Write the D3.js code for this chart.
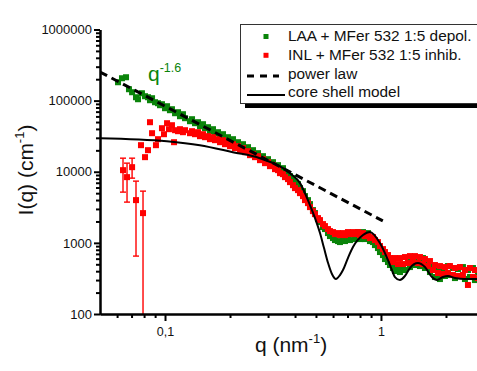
<!DOCTYPE html>
<html>
<head>
<meta charset="utf-8">
<script src="https://cdn.jsdelivr.net/npm/d3@7"></script>
<style>
  body { margin: 0; background: #fff; }
  svg { display: block; font-family: "Liberation Sans", Arial, sans-serif; }
</style>
</head>
<body>
<svg id="chart" width="477" height="371"></svg>
<script>
// LAA + MFer 532 1:5 depol. (green)
const greenQ = [0.0606,0.0632,0.0660,0.0681,0.0704,0.0734,0.0750,0.0782,0.0808,0.0834,
  0.0852,0.0871,0.0899,0.0928,0.0948,0.0968,0.100,0.1022,0.1054,0.1077,
  0.1113,0.1149,0.1173,0.1211,0.1238,0.1305,0.1334,0.1377,0.1422,0.1452,
  0.1500,0.1532,0.1582,0.1615,0.1668,0.1704,0.1760,0.1798,0.1856,0.1896,
  0.1957,0.2000,0.2065,0.2109,0.2178,0.2225,0.2297,0.2347,0.2423,0.2475,
  0.2556,0.2610,0.2695,0.2753,0.2842,0.2904,0.2998,0.3062,0.3162,0.3231,
  0.3336,0.3407,0.3518,0.3594,0.3711,0.3791,0.3914,0.3998,0.4128,0.4217,
  0.4354,0.4448,0.4592,0.4691,0.4843,0.4948,0.5109,0.5219,0.5388,0.5504,
  0.5683,0.5806,0.5995,0.6124,0.6323,0.6459,0.6669,0.6813,0.7034,0.7186,
  0.7419,0.7580,0.7826,0.7995,0.8254,0.8432,0.8706,0.8893,0.9182,0.9380,
  0.9685,0.9894,1.0216,1.0436,1.0775,1.1007,1.1365,1.1610,1.1988,1.2246,
  1.2644,1.2916,1.3335,1.3623,1.4066,1.4369,1.4836,1.5156,1.5648,1.5986,
  1.6505,1.6861,1.7409,1.7783,1.8361,1.8756,1.9365,1.9783,2.0425,2.0865,
  2.1544,2.2008,2.2723,2.3213,2.3967,2.4484,2.5280,2.5823,2.6664,2.7239,
  2.8124,2.8730];
const greenI = [181300,206400,213200,144600,131200,111600,104600,127000,115300,111600,
  101300,108100,94950,91940,86180,89010,78210,83430,73310,75710,
  66520,68710,60370,64410,56590,51360,54800,48140,49730,43690,
  46610,40950,42300,37170,39660,34840,35990,31620,33730,29640,
  30620,26900,28700,25220,26040,22880,24410,20770,22160,18850,
  20110,17670,18250,16040,16560,14550,15030,13210,13640,11990,
  12380,10880,11230,9870,9250,8677,8130,7144,6697,5886,
  5340,4543,3992,3507,2889,2621,2160,1960,1667,1563,
  1373,1246,1168,1095,1060,1026,1095,1060,1131,1095,
  1373,1131,1418,1131,1418,1131,1373,1060,1026,931,
  845,743,674,592,538,488,443,402,443,389,
  472,415,538,457,592,488,573,472,612,443,
  538,389,472,331,415,310,443,342,472,353,
  443,320,429,342,457,310,415,331,443,300,
  389,342];

// INL + MFer 532 1:5 inhib. (red)
const redQ = [0.0774,0.0808,0.0834,0.0852,0.0871,0.0908,0.0928,0.0968,0.0989,0.1022,
  0.1043,0.1077,0.1101,0.1113,0.1149,0.1173,0.1211,0.1238,0.1305,0.1334,
  0.1377,0.1422,0.1452,0.1500,0.1532,0.1582,0.1615,0.1668,0.1704,0.1760,
  0.1798,0.1856,0.1896,0.1957,0.2000,0.2065,0.2109,0.2178,0.2225,0.2297,
  0.2347,0.2423,0.2475,0.2556,0.2610,0.2695,0.2753,0.2842,0.2904,0.2998,
  0.3062,0.3162,0.3231,0.3336,0.3407,0.3518,0.3594,0.3711,0.3791,0.3914,
  0.3998,0.4128,0.4217,0.4354,0.4448,0.4592,0.4691,0.4843,0.4948,0.5109,
  0.5219,0.5388,0.5504,0.5683,0.5806,0.5995,0.6124,0.6323,0.6459,0.6669,
  0.6813,0.7034,0.7186,0.7419,0.7580,0.7826,0.7995,0.8254,0.8432,0.8706,
  0.8893,0.9182,0.9380,0.9685,0.9894,1.0216,1.0436,1.0775,1.1007,1.1365,
  1.1610,1.1988,1.2246,1.2644,1.2916,1.3335,1.3623,1.4066,1.4369,1.4836,
  1.5156,1.5648,1.5986,1.6505,1.6861,1.7409,1.7783,1.8361,1.8756,1.9365,
  1.9783,2.0425,2.0865,2.1544,2.2008,2.2723,2.3213,2.3967,2.4484,2.5280,
  2.5823,2.6664,2.7239,2.8124,2.8730];
const redI = [23640,16040,20110,49730,34840,23640,28700,40950,33730,48140,
  39660,45120,26040,38390,37170,39660,35990,38390,34840,37170,
  33730,35990,31620,33730,30620,31620,28700,30620,27790,28700,
  26040,27790,24410,26040,22880,24410,21450,22880,20110,21450,
  18850,19470,17110,17670,16040,16560,14550,15030,13210,13640,
  11990,12380,10880,10530,9557,9250,8400,7874,7144,6482,
  5886,5516,5004,4543,3992,3622,3183,2796,2538,2230,
  2090,1837,1722,1563,1465,1418,1329,1373,1287,1373,
  1287,1418,1329,1418,1329,1418,1287,1373,1246,1287,
  1168,1206,1095,1026,902,818,743,674,612,538,
  612,504,612,504,632,520,652,538,652,520,
  632,504,592,472,555,415,488,377,472,365,
  457,377,472,353,443,342,457,353,415,256,
  443,331,415,320,402];

// red low-q points with error bars
const redErrQ = [0.0639, 0.0667, 0.0704, 0.0734, 0.0791];
const redErrI = [10530, 8400, 11600, 3992, 2621];
const redErrHi = [15520, 13210, 15520, 7380, 5340];
const redErrLo = [5171, 3742, 8130, 652, 1];

// power law q^-1.6
const powerQ = [0.05, 1.02];
const powerI = [253000, 2040];

// core shell model
const modelQ = [0.05,0.102,0.145,0.206,0.275,0.379,0.422,0.469,0.495,0.522,
  0.545,0.569,0.593,0.619,0.646,0.667,0.703,0.742,0.826,0.889,
  0.989,1.101,1.161,1.224,1.291,1.362,1.483,1.598,1.722,1.816,
  1.936,2.043,2.201,2.448,3.0];
const modelI = [29650,26900,23650,18850,15500,9550,6920,3400,2230,1375,
  845,520,365,310,353,415,612,873,1288,1420,
  993,488,331,301,342,443,520,457,331,301,
  331,342,321,310,310];

// ticks
const xMajor = [0.1, 1];
const xTickLabels = ['0,1', '1'];
const xMinor = [0.06, 0.07, 0.08, 0.09, 0.2, 0.3, 0.4, 0.5, 0.6, 0.7, 0.8, 0.9, 2];
const yMajor = [100, 1000, 10000, 100000, 1000000];
const yMinor = [200, 300, 400, 500, 600, 700, 800, 900,
  2000, 3000, 4000, 5000, 6000, 7000, 8000, 9000,
  20000, 30000, 40000, 50000, 60000, 70000, 80000, 90000,
  200000, 300000, 400000, 500000, 600000, 700000, 800000, 900000];

const legendLabels = ['LAA + MFer 532 1:5 depol.', 'INL + MFer 532 1:5 inhib.', 'power law', 'core shell model'];

const green = '#0a840a';
const red = '#ff0000';

const svg = d3.select('#chart');

const x = d3.scaleLog().domain([0.05, 3]).range([100, 484]);
const y = d3.scaleLog().domain([100, 1000000]).range([314, 29.5]);

// clip to plot area
svg.append('defs').append('clipPath').attr('id', 'plot')
  .append('rect').attr('x', 100).attr('y', 29).attr('width', 384).attr('height', 285);

const plot = svg.append('g').attr('clip-path', 'url(#plot)');

// green squares
plot.append('g').selectAll('rect')
  .data(d3.zip(greenQ, greenI))
  .enter().append('rect')
  .attr('x', d => x(d[0]) - 3)
  .attr('y', d => y(d[1]) - 3)
  .attr('width', 6).attr('height', 6)
  .attr('fill', green);

// red error bars
const errData = redErrQ.map((q, i) => ({ q: q, v: redErrI[i], lo: redErrLo[i], hi: redErrHi[i] }));
const err = plot.append('g').attr('stroke', red).attr('stroke-width', 1.4);
err.selectAll('.bar').data(errData).enter().append('line')
  .attr('x1', d => x(d.q)).attr('x2', d => x(d.q))
  .attr('y1', d => y(d.lo)).attr('y2', d => y(d.hi));
err.selectAll('.capHi').data(errData).enter().append('line')
  .attr('x1', d => x(d.q) - 3).attr('x2', d => x(d.q) + 3)
  .attr('y1', d => y(d.hi)).attr('y2', d => y(d.hi));
err.selectAll('.capLo').data(errData).enter().append('line')
  .attr('x1', d => x(d.q) - 3).attr('x2', d => x(d.q) + 3)
  .attr('y1', d => y(d.lo)).attr('y2', d => y(d.lo));

// red squares
plot.append('g').selectAll('rect')
  .data(d3.zip(redQ, redI).concat(d3.zip(redErrQ, redErrI)))
  .enter().append('rect')
  .attr('x', d => x(d[0]) - 3)
  .attr('y', d => y(d[1]) - 3)
  .attr('width', 6).attr('height', 6)
  .attr('fill', red);

// model line
const line = d3.line().x(d => x(d[0])).y(d => y(d[1]));
plot.append('path')
  .datum(d3.zip(modelQ, modelI))
  .attr('d', line.curve(d3.curveMonotoneX))
  .attr('fill', 'none').attr('stroke', '#000').attr('stroke-width', 2);

// power law
plot.append('path')
  .datum(d3.zip(powerQ, powerI))
  .attr('d', d3.line().x(d => x(d[0])).y(d => y(d[1])))
  .attr('fill', 'none').attr('stroke', '#000').attr('stroke-width', 3)
  .attr('stroke-dasharray', '8,5');

// axes
function styleAxis(g) {
  g.selectAll('path, line').attr('stroke', '#000').attr('stroke-width', 2);
  g.selectAll('text').attr('fill', '#111').attr('font-family', '"Liberation Sans", Arial, sans-serif');
}

svg.append('g').attr('transform', 'translate(0,314)')
  .call(d3.axisBottom(x).tickValues(xMinor).tickSize(4).tickSizeOuter(0).tickFormat(''))
  .call(styleAxis);
svg.append('g').attr('transform', 'translate(0,314)')
  .call(d3.axisBottom(x).tickValues(xMajor).tickSize(7).tickSizeOuter(0).tickPadding(6)
    .tickFormat((d, i) => xTickLabels[i]))
  .call(styleAxis)
  .selectAll('text').attr('font-size', 12.5);

svg.append('g').attr('transform', 'translate(100,0)')
  .call(d3.axisLeft(y).tickValues(yMinor).tickSize(4).tickSizeOuter(0).tickFormat(''))
  .call(styleAxis);
svg.append('g').attr('transform', 'translate(100,0)')
  .call(d3.axisLeft(y).tickValues(yMajor).tickSize(6).tickSizeOuter(0).tickPadding(2)
    .tickFormat(d => String(d)))
  .call(styleAxis)
  .selectAll('text').attr('font-size', 13);

// axis titles
const xt = svg.append('text').attr('x', 291).attr('y', 352)
  .attr('text-anchor', 'middle').attr('font-size', 21).attr('fill', '#111');
xt.append('tspan').text('q (nm');
xt.append('tspan').attr('dy', -9).attr('font-size', 13).text('-1');
xt.append('tspan').attr('dy', 9).text(')');

const yt = svg.append('text').attr('transform', 'translate(33,170) rotate(-90)')
  .attr('text-anchor', 'middle').attr('font-size', 21).attr('fill', '#111');
yt.append('tspan').text('I(q) (cm');
yt.append('tspan').attr('dy', -9).attr('font-size', 13).text('-1');
yt.append('tspan').attr('dy', 9).text(')');

// q^-1.6 annotation
const ann = svg.append('text').attr('x', 148).attr('y', 81)
  .attr('font-size', 21).attr('fill', green);
ann.append('tspan').text('q');
ann.append('tspan').attr('dy', -9.5).attr('font-size', 12.5).text('-1.6');

// legend
const legend = svg.append('g');
legend.append('rect').attr('x', 245).attr('y', 29).attr('width', 260).attr('height', 79).attr('fill', '#000');
legend.append('rect').attr('x', 240.5).attr('y', 24.5).attr('width', 260).attr('height', 79)
  .attr('fill', '#fff').attr('stroke', '#333').attr('stroke-width', 1);

legendLabels.forEach((label, i) => {
  const base = 41 + i * 18.8;
  if (i === 0 || i === 1) {
    legend.append('rect').attr('x', 263.5).attr('y', base - 7).attr('width', 5).attr('height', 5)
      .attr('fill', i === 0 ? green : red);
  } else {
    legend.append('line').attr('x1', 247).attr('x2', i === 2 ? 279 : 285)
      .attr('y1', base - 2.5).attr('y2', base - 2.5)
      .attr('stroke', '#000').attr('stroke-width', i === 2 ? 3 : 2)
      .attr('stroke-dasharray', i === 2 ? '7,6' : null);
  }
  legend.append('text').attr('x', 288).attr('y', base)
    .attr('font-size', 15.4).attr('fill', '#111').text(label);
});
</script>
</body>
</html>
